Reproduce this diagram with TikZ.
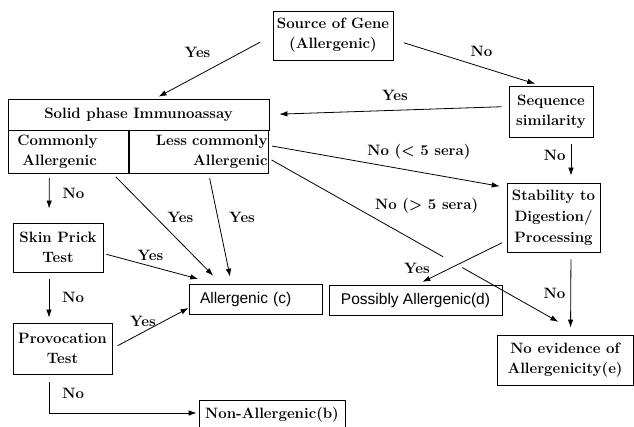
\documentclass[tikz,border=0pt]{standalone}
\usepackage{fontspec}
\newfontfamily\arialfont{Liberation Sans}
\usetikzlibrary{positioning,arrows.meta}
\tikzstyle{box}=[draw,rectangle,inner sep=2pt,align=center,font=\fontsize{15}{20}\selectfont\bfseries]
\tikzstyle{sbox}=[box,font=\fontsize{15.5}{19}\selectfont\arialfont]
\tikzstyle{lbl}=[inner sep=3pt,font=\fontsize{15}{20}\selectfont\bfseries]
\newcommand{\newBox}[4]{\node[#3](#1) at (#4){#2};}
\newcommand{\newArrow}[5]{\draw[->,#4] (#1) -- node[lbl,#5] {#3} (#2);}

\begin{document}
\begin{tikzpicture}[x=1pt,y=-1pt,
      >={Latex[length=8pt,width=5.5pt]},
      line width=0.8pt  %thin lines as in the scan
      ]
      \useasboundingbox (0,0) rectangle (634,427);
      % boxes
      \newBox{src}{Source of Gene\\(Allergenic)}{box,minimum width=120pt,minimum height=49pt}{333,35.5}
      \newBox{soltop}{Solid phase Immunoassay}{box,minimum width=261pt,minimum height=31pt}{138.5,114.5}
      \newBox{common}{Commonly\\\hspace*{5pt}Allergenic}{box,anchor=west,text width=103pt,inner xsep=9pt,align=left,minimum height=43pt}{8,151.5}
      \newBox{less}{Less commonly\\Allergenic\hspace*{6pt}}{box,anchor=east,text width=138pt,inner xsep=1pt,align=right,minimum height=43pt}{269,151.5}
      \newBox{seq}{Sequence\\similarity}{box,minimum width=84pt,minimum height=51pt}{551,111.5}
      \newBox{stab}{Stability to\\Digestion/\\Processing}{box,minimum width=93pt,minimum height=69pt,font=\fontsize{15}{21}\selectfont\bfseries}{553.5,217.5}
      \newBox{skin}{Skin Prick\\Test}{box,minimum width=90pt,minimum height=49pt}{58,247.5}
      \newBox{prov}{Provocation\\Test}{box,minimum width=99pt,minimum height=51pt}{62.5,348.5}
      \newBox{allc}{Allergenic (c)}{sbox,text width=111pt,inner xsep=11pt,align=left,minimum height=30pt}{255.5,299}
      \newBox{poss}{Possibly Allergenic(d)}{sbox,minimum width=173pt,minimum height=30pt}{415.5,300}
      \newBox{noev}{No evidence of\\Allergenicity(e)}{box,minimum width=136pt,minimum height=50pt}{565,360}
      \newBox{nonall}{Non-Allergenic(b)}{box,minimum width=146pt,minimum height=30pt}{272,415}
      % arrows
      \newArrow{src.west}{[xshift=16.5pt]soltop.north}{Yes}{shorten <=14pt,shorten >=4pt}{pos=.5,anchor=south east,yshift=6pt}
      \newArrow{[yshift=-4pt]src.east}{[xshift=-10pt]seq.north}{No}{shorten <=11pt,shorten >=6pt}{pos=.5,anchor=south west,yshift=3pt}
      \newArrow{[yshift=5pt]seq.west}{soltop.east}{Yes}{shorten <=7pt,shorten >=10pt}{pos=.475,above=6pt}
      \newArrow{[xshift=20pt]seq.south}{[xshift=17.5pt]stab.north}{No}{shorten <=7pt,shorten >=7pt}{pos=.4,left=2pt}
      \newArrow{[yshift=6pt]less.east}{[yshift=30pt]stab.west}{No (< 5 sera)}{shorten <=3pt,shorten >=7pt}{pos=.4,anchor=south west}
      % the > 5 sera line is broken where it crosses
      \path ([yshift=-7pt]less.east) -- coordinate[pos=.558] (g1) coordinate[pos=.619] (g2) ([xshift=16pt]noev.north);
      \draw[shorten <=3pt] ([yshift=-7pt]less.east) -- node[lbl,pos=.59,anchor=south west] {No (> 5 sera)} (g1);
      \draw[->,shorten >=26pt] (g2) -- ([xshift=16pt]noev.north);
      \newArrow{[yshift=-23pt]stab.west}{[xshift=1.5pt]poss.north}{Yes}{shorten <=5pt,shorten >=6pt}{at end,above=8pt}
      \newArrow{[xshift=17.5pt]stab.south}{[xshift=5.5pt]noev.north}{No}{shorten <=7pt,shorten >=7pt}{midway,left=2pt}
      \newArrow{[xshift=-19.5pt]common.south}{[xshift=-9pt]skin.north}{No}{shorten <=5pt,shorten >=14pt}{pos=.4,right=10pt}
      \newArrow{[xshift=43.5pt]common.south}{[xshift=-34.5pt]allc.north}{Yes}{shorten <=5pt,shorten >=11pt}{pos=.477,anchor=south west}
      \newArrow{[xshift=10pt]less.south}{[xshift=-24pt]allc.north}{Yes}{shorten <=5pt,shorten >=7pt}{pos=.4,right=8pt}
      \newArrow{[yshift=-6pt]skin.east}{[xshift=-40pt]allc.north}{Yes}{shorten <=3pt,shorten >=18pt}{pos=.42,above=2pt}
      \newArrow{[xshift=-9pt]skin.south}{[xshift=-13.5pt]prov.north}{No}{shorten <=7pt,shorten >=5pt}{midway,right=10pt}
      \newArrow{prov.east}{[yshift=-9pt]allc.west}{Yes}{shorten <=6pt}{pos=.4,above=2pt}
      \draw[->,shorten <=8pt,shorten >=2pt] ([xshift=-13.5pt]prov.south) |- node[lbl,pos=.25,right=10pt] {No} ([yshift=2pt]nonall.west);
    \end{tikzpicture}
\end{document}
